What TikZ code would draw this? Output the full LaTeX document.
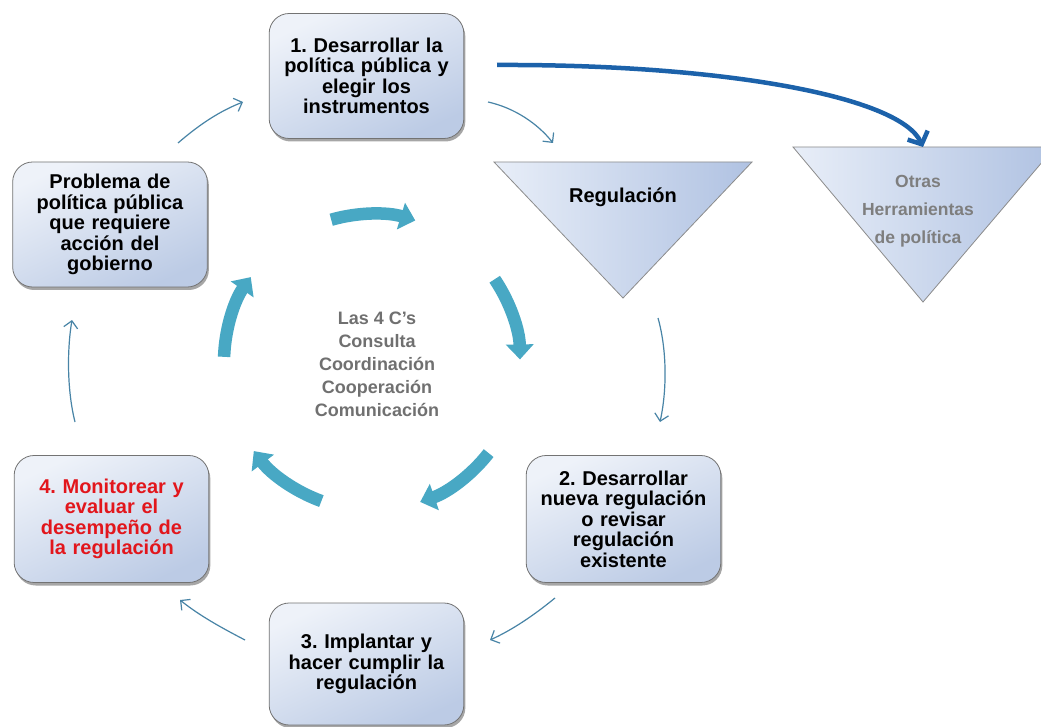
\documentclass[tikz,border=0pt]{standalone}
\usepackage{fontspec}
\setmainfont{Liberation Sans}
\usetikzlibrary{arrows.meta,shadows,calc}
\frenchspacing
\definecolor{boxtop}{RGB}{238,242,249}
\definecolor{boxbot}{RGB}{188,203,229}
\definecolor{tril}{RGB}{232,238,248}
\definecolor{trir}{RGB}{176,194,226}
\definecolor{thinc}{RGB}{72,132,166}
\definecolor{tealc}{RGB}{72,168,196}
\definecolor{bluec}{RGB}{28,98,170}
\definecolor{redc}{RGB}{226,22,28}
\definecolor{grayt}{RGB}{112,112,112}
\tikzset{
  box/.style={draw=black!55, line width=0.8pt, rounded corners=20pt,
    minimum width=193pt, minimum height=125pt, text width=188pt, align=center,
    font=\bfseries\fontsize{20}{20.5}\selectfont,
    top color=boxtop, bottom color=boxbot, shading angle=25,
    drop shadow={shadow xshift=1.5pt, shadow yshift=-3pt, opacity=0.35, fill=black}},
  tri/.style={draw=black!45, line width=0.8pt, left color=tril, right color=trir},
  thin/.style={draw=thinc, line width=1.2pt, -{Straight Barb[length=7pt,width=14pt]}},
  tealarrow/.style={draw=tealc, line width=12.5pt, -{Triangle[width=27pt,length=15pt]}},
  bigarrow/.style={draw=bluec, line width=4.5pt, -{Straight Barb[length=10pt,width=22pt]}},
}
\begin{document}
\begin{tikzpicture}[x=1pt,y=-1pt]
\useasboundingbox[fill=white] (0,0) rectangle (1041,727);

% boxes
\node[box] (b1) at (366.5,76) {1. Desarrollar la\\ política pública y\\ elegir los\\ instrumentos};
\node[box] (bp) at (110,224.5) {Problema de\\ política pública\\ que requiere\\ acción del\\ gobierno};
\node[box, text=redc, minimum height=127pt] (b4) at (111.5,519) {4. Monitorear y\\ evaluar el\\ desempeño de\\ la regulación};
\node[box, minimum height=127pt] (b2) at (623.5,519) {2. Desarrollar\\ nueva regulación\\ o revisar\\ regulación\\ existente};
\node[box, minimum height=122pt] (b3) at (366.5,664) {3. Implantar y\\ hacer cumplir la\\ regulación};

% triangles
\coordinate (r1) at (494,162); \coordinate (r2) at (752,162); \coordinate (r3) at (623,298);
\shade[tri] (r1) -- (r2) -- (r3) -- cycle;
\node[font=\bfseries\fontsize{20}{20}\selectfont] (reg) at (623,197) {Regulación};
\coordinate (o1) at (793,147); \coordinate (o2) at (1055,147); \coordinate (o3) at (923,302);
\shade[tri] (o1) -- (o2) -- (o3) -- cycle;
\node[font=\bfseries\fontsize{17.5}{28}\selectfont, text=grayt!90, align=center] (otras) at (918,211) {Otras\\ Herramientas\\ de política};

% centre text
\node[font=\bfseries\fontsize{18}{23}\selectfont, text=grayt, align=center] (cen) at (377,364) {Las 4 C's\\ Consulta\\ Coordinación\\ Cooperación\\ Comunicación};

% teal cycle arrows
\coordinate (cc) at (372,362);
\foreach \s in {-106,-34,38,110,182}{
  \draw[tealarrow] ($(cc)+(\s:148)$) arc[start angle=\s, end angle=\s+33, radius=148];
}

% thin arrows
\coordinate (a1s) at (178,143); \coordinate (a1e) at (243,102);
\coordinate (a2s) at (488,102); \coordinate (a2e) at (553,143);
\coordinate (a3s) at (658,318); \coordinate (a3e) at (660,422);
\coordinate (a4s) at (555,598); \coordinate (a4e) at (490,640);
\coordinate (a5s) at (245,640); \coordinate (a5e) at (180,600);
\coordinate (a6s) at (75,422);  \coordinate (a6e) at (72,320);
\draw[thin] (a1s) .. controls (200,124) and (220,111) .. (a1e);
\draw[thin] (a2s) .. controls (515,108) and (538,124) .. (a2e);
\draw[thin] (a3s) .. controls (667,350) and (667,390) .. (a3e);
\draw[thin] (a4s) .. controls (533,616) and (512,630) .. (a4e);
\draw[thin] (a5s) .. controls (222,628) and (200,616) .. (a5e);
\draw[thin] (a6s) .. controls (67,390) and (67,350) .. (a6e);

% big blue arrow
\coordinate (bs) at (497,65);
\draw[bigarrow] (bs) .. controls (720,64) and (900,96) .. (o1 -| o3);
\end{tikzpicture}
\end{document}
